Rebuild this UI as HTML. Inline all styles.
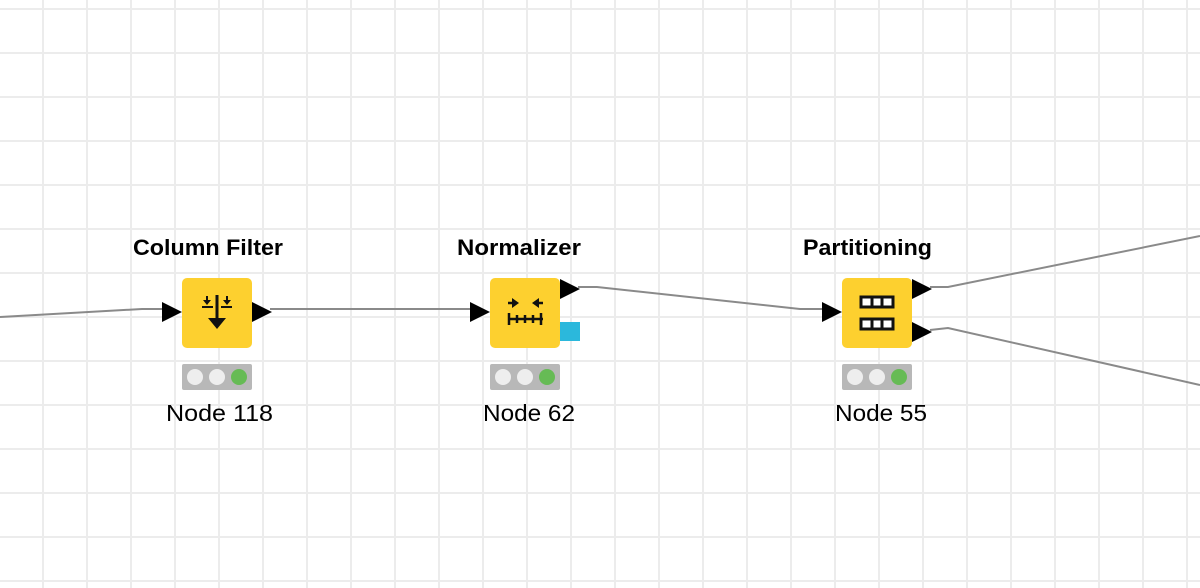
<!DOCTYPE html>
<html><head><style>
html,body{margin:0;padding:0;width:1200px;height:588px;overflow:hidden;background:#fff;font-family:"Liberation Sans",Arial,sans-serif;}
</style></head><body>
<svg width="1200" height="588" xmlns="http://www.w3.org/2000/svg">
<defs>
<pattern id="g" x="42" y="8" width="44" height="44" patternUnits="userSpaceOnUse">
<rect x="0" y="0" width="2" height="44" fill="#ececec"/>
<rect x="0" y="0" width="44" height="2" fill="#ececec"/>
</pattern>
</defs>
<rect width="1200" height="588" fill="url(#g)"/>
<g fill="none" stroke="#8a8a8a" stroke-width="2">
<polyline points="0,317 18,316 142,309 162,309"/>
<polyline points="270,309 472,309"/>
<polyline points="578,287 597,287 800,309 824,309"/>
<polyline points="930,287 948,287 1200,236"/>
<polyline points="930,330 948,328 1200,385"/>
</g>
<g fill="#000">
<polygon points="162,302 182,312 162,322"/>
<polygon points="252,302 272,312 252,322"/>
<polygon points="470,302 490,312 470,322"/>
<polygon points="560,279 580,289 560,299"/>
<polygon points="822,302 842,312 822,322"/>
<polygon points="912,279 932,289 912,299"/>
<polygon points="912,322 932,332 912,342"/>
</g>
<rect x="560" y="322" width="20" height="19" fill="#2bb8dc"/>
<g fill="#fdd02f">
<rect x="182" y="278" width="70" height="70" rx="5"/>
<rect x="490" y="278" width="70" height="70" rx="5"/>
<rect x="842" y="278" width="70" height="70" rx="5"/>
</g>
<!-- column filter icon -->
<g stroke="#111" stroke-width="3" fill="none">
<line x1="217" y1="295" x2="217" y2="320"/>
</g>
<g stroke="#111" stroke-width="2" fill="none">
<line x1="202" y1="307" x2="213" y2="307"/><line x1="221" y1="307" x2="232" y2="307"/>
<line x1="207" y1="296" x2="207" y2="303"/><line x1="227" y1="296" x2="227" y2="303"/>
</g>
<polygon points="208,318 226,318 217,329" fill="#111"/>
<polygon points="203,300 211,300 207,305" fill="#111"/>
<polygon points="223,300 231,300 227,305" fill="#111"/>
<!-- normalizer icon -->
<g stroke="#111" stroke-width="2.5" fill="none">
<line x1="508" y1="319" x2="543" y2="319"/>
<line x1="509" y1="313" x2="509" y2="325"/><line x1="517" y1="315" x2="517" y2="323"/>
<line x1="525" y1="315" x2="525" y2="323"/><line x1="533" y1="315" x2="533" y2="323"/>
<line x1="541" y1="313" x2="541" y2="325"/>
<line x1="508" y1="303" x2="515" y2="303"/><line x1="536" y1="303" x2="543" y2="303"/>
</g>
<polygon points="512,298 519,303 512,308" fill="#111"/>
<polygon points="539,298 532,303 539,308" fill="#111"/>
<!-- partition icon -->
<g stroke="#111" stroke-width="3" fill="#fff">
<rect x="861" y="297" width="32" height="10"/>
<rect x="861" y="319" width="32" height="10"/>
<line x1="872" y1="297" x2="872" y2="307"/><line x1="882" y1="297" x2="882" y2="307"/>
<line x1="872" y1="319" x2="872" y2="329"/><line x1="882" y1="319" x2="882" y2="329"/>
</g>
<!-- status bars -->
<g>
<rect x="182" y="364" width="70" height="26" rx="2" fill="#b8b8b8"/>
<circle cx="195" cy="377" r="8" fill="#eeeeee"/><circle cx="217" cy="377" r="8" fill="#eeeeee"/><circle cx="239" cy="377" r="8" fill="#66bb55"/>
<rect x="490" y="364" width="70" height="26" rx="2" fill="#b8b8b8"/>
<circle cx="503" cy="377" r="8" fill="#eeeeee"/><circle cx="525" cy="377" r="8" fill="#eeeeee"/><circle cx="547" cy="377" r="8" fill="#66bb55"/>
<rect x="842" y="364" width="70" height="26" rx="2" fill="#b8b8b8"/>
<circle cx="855" cy="377" r="8" fill="#eeeeee"/><circle cx="877" cy="377" r="8" fill="#eeeeee"/><circle cx="899" cy="377" r="8" fill="#66bb55"/>
</g>
<g font-family="Liberation Sans, Arial, sans-serif" fill="#000">
<text x="133" y="255" font-size="22" font-weight="bold" textLength="150" lengthAdjust="spacingAndGlyphs">Column Filter</text>
<text x="457" y="255" font-size="22" font-weight="bold" textLength="124" lengthAdjust="spacingAndGlyphs">Normalizer</text>
<text x="803" y="255" font-size="22" font-weight="bold" textLength="129" lengthAdjust="spacingAndGlyphs">Partitioning</text>
<text x="166" y="421" font-size="23" textLength="107" lengthAdjust="spacingAndGlyphs">Node 118</text>
<text x="483" y="421" font-size="23" textLength="92" lengthAdjust="spacingAndGlyphs">Node 62</text>
<text x="835" y="421" font-size="23" textLength="92" lengthAdjust="spacingAndGlyphs">Node 55</text>
</g>
</svg>
</body></html>
